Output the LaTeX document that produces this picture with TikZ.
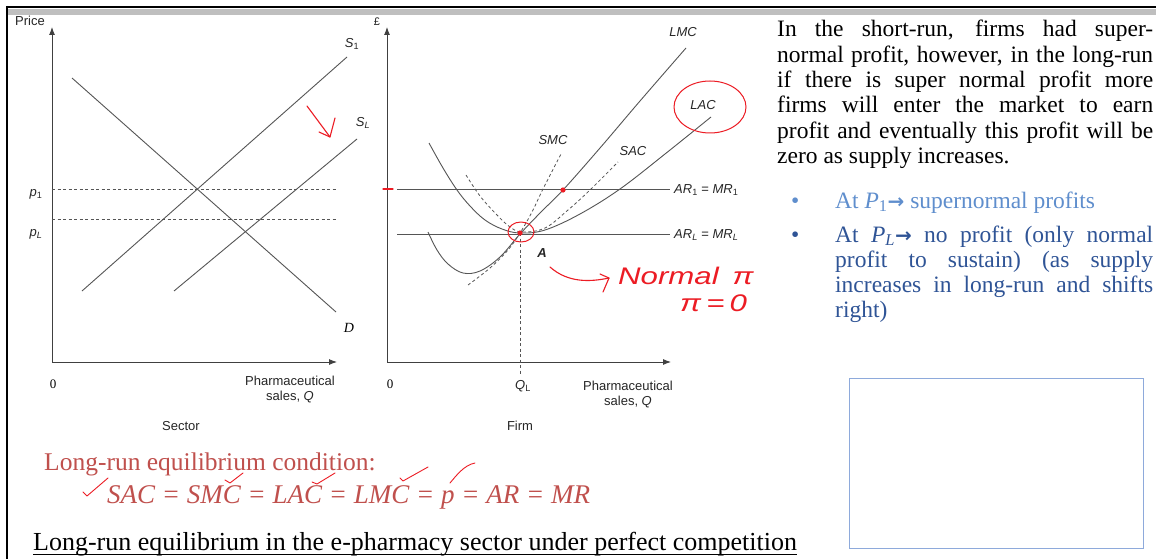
\documentclass[tikz,border=0pt]{standalone}
\usepackage{fontspec}
\setmainfont{Liberation Serif}
\newfontfamily\gf{Liberation Sans}
\newfontfamily\dv{DejaVu Sans}
\usetikzlibrary{arrows.meta}
\definecolor{ln}{HTML}{555555}
\definecolor{hand}{RGB}{236,28,36}
\definecolor{mred}{RGB}{192,80,77}
\definecolor{lblue}{RGB}{95,142,205}
\definecolor{dblue}{RGB}{47,84,150}
\definecolor{boxblue}{RGB}{142,170,219}
\newcommand{\gsize}{\fontsize{13}{15}\selectfont}
\newcommand{\ptext}{\fontsize{23.5}{25}\selectfont}
\newcommand{\il}[2]{{\itshape #1}\textsubscript{#2}}
\newcommand{\rarr}{{\dv\bfseries\fontsize{20}{20}\selectfont\char"2192}}
\begin{document}
\begin{tikzpicture}[x=1pt,y=-1pt,
  curve/.style={draw=ln, line width=0.9pt},
  dcurve/.style={draw=ln, line width=0.8pt, dash pattern=on 3pt off 2.5pt},
  axisline/.style={draw=black!75, line width=0.9pt, -{Latex[length=8pt,width=6pt]}},
  glab/.style={font=\gf\gsize, inner sep=0pt, text=black!85},
  handmark/.style={draw=hand, line width=1.1pt, line cap=round, line join=round},
  handtext/.style={inner sep=0pt, text=hand, font=\gf\itshape\fontsize{24}{24}\selectfont, anchor=base west},
  ptxt/.style={font=\ptext, inner sep=0pt, anchor=base west}]
\useasboundingbox (0,0) rectangle (1156,559);
\fill[white] (0,0) rectangle (1156,559);
% frame
\fill[black!25] (7,9) rectangle (1156,15);
\draw[line width=2pt] (6,7) -- (1156,7);
\draw[line width=2pt] (7,6) -- (7,559);

% ---------------- Sector graph ----------------
\coordinate (O1) at (52,362);
\coordinate (Y1) at (52,27);
\coordinate (X1) at (337,362);
\draw[axisline] (O1) -- (Y1);
\draw[axisline] (O1) -- (X1);
\node[glab] (price) at (30,21) {Price};
\coordinate (s1a) at (82,291); \coordinate (s1b) at (347,57);
\coordinate (sla) at (174,291); \coordinate (slb) at (357,139);
\coordinate (da) at (72,78); \coordinate (db) at (336,312);
\draw[curve] (s1a) -- (s1b);
\draw[curve] (sla) -- (slb);
\draw[curve] (da) -- (db);
\coordinate (p1a) at (52,189); \coordinate (p1b) at (337,189);
\coordinate (pla) at (52,219); \coordinate (plb) at (337,219);
\draw[dcurve] (p1a) -- (p1b);
\draw[dcurve] (pla) -- (plb);
\node[glab] (lS1) at (352,44) {\il{S}{1}};
\node[glab] (lSL) at (363,123) {\il{S}{\itshape L}};
\node[inner sep=0pt, font=\fontsize{14}{14}\selectfont\itshape] (lD) at (349,328) {D};
\node[glab] (lp1) at (36,194) {\il{p}{1}};
\node[glab] (lpL) at (36,234) {\il{p}{\itshape L}};
\node[inner sep=0pt, font=\fontsize{13}{13}\selectfont] (z1) at (53,384) {0};
\node[glab, align=center] (q1) at (290,390) {Pharmaceutical\\sales, {\itshape Q}};
\node[glab] (sector) at (181,426) {Sector};
% red arrow
\coordinate (ra1) at (307,106); \coordinate (ra2) at (330,137);
\draw[handmark] (ra1) -- (ra2);
\draw[handmark] (319,132) -- (ra2) -- (335,118);

% ---------------- Firm graph ----------------
\coordinate (O2) at (387,362);
\coordinate (Y2) at (387,27);
\coordinate (X2) at (671,362);
\draw[axisline] (O2) -- (Y2);
\draw[axisline] (O2) -- (X2);
\node[glab, font=\gf\fontsize{11}{11}\selectfont] (pound) at (377,22) {£};
\coordinate (A) at (520,233);
% LAC
\draw[curve] plot[smooth, tension=0.6] coordinates {(429,143) (443,168) (457,190) (470,206) (485,220) (502,229) (520,233) (545,230) (580,214) (620,189) (665,154) (711,117)};
% LMC
\draw[curve] plot[smooth, tension=0.6] coordinates {(428,232) (437,250) (448,264) (463,273) (480,271) (500,257) (520,234) (541,212) (563,190) (600,148) (640,101) (686,48)};
% SMC
\draw[dcurve] plot[smooth, tension=0.6] coordinates {(468,285) (490,268) (508,250) (520,233) (532,212) (543,189) (561,154)};
% SAC
\draw[dcurve] plot[smooth, tension=0.6] coordinates {(466,175) (480,196) (497,215) (510,227) (522,232) (545,228) (568,210) (590,190) (618,162)};
\coordinate (ar1a) at (397,189); \coordinate (ar1b) at (670,189);
\coordinate (arla) at (397,234); \coordinate (arlb) at (670,234);
\draw[curve, line width=0.8pt] (ar1a) -- (ar1b);
\draw[curve, line width=0.8pt] (arla) -- (arlb);
\coordinate (qlb) at (520,374);
\draw[dcurve] (A) -- (qlb);
\node[glab, anchor=west] (lar1) at (674,190) {\il{AR}{1} = \il{MR}{1}};
\node[glab, anchor=west] (larl) at (674,235) {\il{AR}{\itshape L} = \il{MR}{\itshape L}};
\node[glab] (lLMC) at (683,32) {\itshape LMC};
\node[glab] (lLAC) at (703,105) {\itshape LAC};
\node[glab] (lSMC) at (553,140) {\itshape SMC};
\node[glab] (lSAC) at (633,151) {\itshape SAC};
\node[glab] (lA) at (542,253) {\itshape\bfseries A};
\node[glab] (lQL) at (523,386) {{\itshape Q}\textsubscript{L}};
\node[inner sep=0pt, font=\fontsize{13}{13}\selectfont] (z2) at (390,384) {0};
\node[glab, align=center] (q2) at (628,395) {Pharmaceutical\\sales, {\itshape Q}};
\node[glab] (firm) at (520,426) {Firm};
% red marks
\draw[handmark] (383,189) -- (393,189);
\fill[hand] (563,190) circle (2.6);
\fill[hand] (A) circle (2.6);
\draw[handmark, line width=1pt] (521,232) ellipse [x radius=13, y radius=10];
\draw[handmark, line width=1pt] (710,107) ellipse [x radius=36, y radius=26];
\coordinate (na1) at (550,267); \coordinate (na2) at (609,278);
\draw[handmark] (na1) .. controls (568,283) and (590,282) .. (na2);
\draw[handmark] (600,274) -- (na2) -- (603,292);
\node[handtext] (normal) at (618,284) {\scalebox{1.3}[1]{Normal \,π}};
\node[handtext] (pizero) at (680,311) {\scalebox{1.3}[1]{π\,=\,0}};

% ---------------- Right text ----------------
\node[ptxt] (t1) at (777,37) {\makebox[376pt][s]{In the short-run, firms had super-}};
\node[ptxt] (t2) at (777,62.3) {\makebox[376pt][s]{normal profit, however, in the long-run}};
\node[ptxt] (t3) at (777,87.6) {\makebox[376pt][s]{if there is super normal profit more}};
\node[ptxt] (t4) at (777,112.9) {\makebox[376pt][s]{firms will enter the market to earn}};
\node[ptxt] (t5) at (777,138.2) {\makebox[376pt][s]{profit and eventually this profit will be}};
\node[ptxt] (t6) at (777,163.5) {zero as supply increases.};
\node[ptxt, text=lblue] (b1) at (791,208) {•};
\node[ptxt, text=lblue] (b1t) at (835,208) {At \il{P}{1}\rarr{} supernormal profits};
\node[ptxt, text=dblue] (b2) at (791,242) {•};
\node[ptxt, text=dblue] (b2a) at (835,242) {\makebox[318pt][s]{At \il{P}{\itshape L}\rarr{} no profit (only normal}};
\node[ptxt, text=dblue] (b2b) at (835,267) {\makebox[318pt][s]{profit to sustain) (as supply}};
\node[ptxt, text=dblue] (b2c) at (835,292) {\makebox[318pt][s]{increases in long-run and shifts}};
\node[ptxt, text=dblue] (b2d) at (835,317) {right)};
\node[draw=boxblue, line width=1pt, minimum width=294pt, minimum height=170pt, anchor=north west, inner sep=0pt] (box) at (849,378) {};

% ---------------- Bottom ----------------
\node[ptxt, text=mred, font=\fontsize{25.5}{27}\selectfont] (cond) at (44,470) {Long-run equilibrium condition:};
\node[ptxt, text=mred, font=\fontsize{27}{29}\selectfont\itshape] (eq) at (107,503) {SAC = SMC = LAC = LMC = p = AR = MR};
\draw[handmark, line width=0.9pt] (83,492) -- (87,496) -- (108,478);
\draw[handmark, line width=0.9pt] (225,480) -- (230,483) -- (243,473);
\draw[handmark, line width=0.9pt] (312,482) -- (317,484) -- (335,473);
\draw[handmark, line width=0.9pt] (400,478) -- (403,481) -- (428,467);
\draw[handmark, line width=0.9pt] (450,483) .. controls (456,476) and (464,465) .. (475,463);
\node[ptxt, font=\fontsize{26}{28}\selectfont] (title) at (33,550) {Long-run equilibrium in the e-pharmacy sector under perfect competition};
\draw[line width=1pt] ([yshift=-4.5pt]title.base west) -- ([yshift=-4.5pt]title.base east);
\end{tikzpicture}
\end{document}
